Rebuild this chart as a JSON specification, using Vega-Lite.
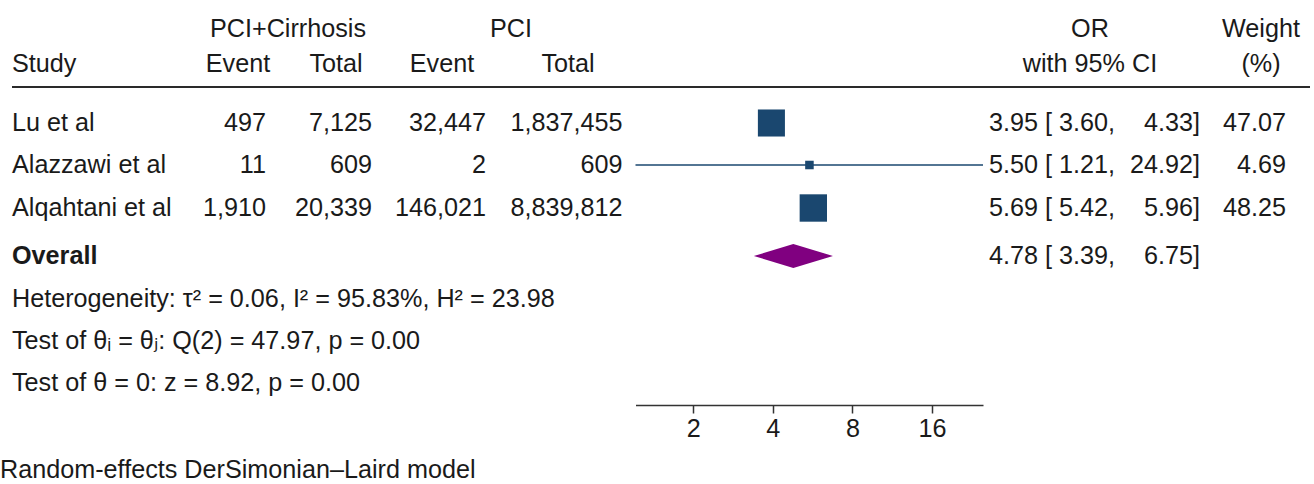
{
  "$schema": "https://vega.github.io/schema/vega-lite/v6.json",
  "width": 1310,
  "height": 405,
  "padding": 0,
  "autosize": {"type": "pad"},
  "background": "white",
  "usermeta": {"embedOptions": {"actions": false}},
  "config": {
    "view": {"stroke": null},
    "text": {"font": "Liberation Sans, DejaVu Sans, sans-serif", "fontSize": 25.2, "color": "#1a1a1a", "baseline": "middle"}
  },
  "datasets": {
    "rows": [
      {"study": "Lu et al", "kind": "study", "line": 3, "e1": 497, "n1": 7125, "e2": 32447, "n2": 1837455, "or": 3.95, "lo": 3.60, "hi": 4.33, "weight": 47.07},
      {"study": "Alazzawi et al", "kind": "study", "line": 4, "e1": 11, "n1": 609, "e2": 2, "n2": 609, "or": 5.50, "lo": 1.21, "hi": 24.92, "weight": 4.69},
      {"study": "Alqahtani et al", "kind": "study", "line": 5, "e1": 1910, "n1": 20339, "e2": 146021, "n2": 8839812, "or": 5.69, "lo": 5.42, "hi": 5.96, "weight": 48.25},
      {"study": "Overall", "kind": "overall", "line": 6, "or": 4.78, "lo": 3.39, "hi": 6.75}
    ],
    "headers": [
      {"text": "PCI+Cirrhosis", "col": 4, "line": 0},
      {"text": "PCI", "col": 9, "line": 0},
      {"text": "OR", "col": 13, "line": 0},
      {"text": "Weight", "col": 15, "line": 0},
      {"text": "Event", "col": 2, "line": 1},
      {"text": "Total", "col": 5, "line": 1},
      {"text": "Event", "col": 7, "line": 1},
      {"text": "Total", "col": 10, "line": 1},
      {"text": "with 95% CI", "col": 13, "line": 1},
      {"text": "(%)", "col": 15, "line": 1}
    ],
    "notes": [
      {"text": "Study", "col": 1, "line": 1},
      {"text": "Heterogeneity: τ² = 0.06, I² = 95.83%, H² = 23.98", "col": 1, "line": 7},
      {"text": "Test of θᵢ = θⱼ: Q(2) = 47.97, p = 0.00", "col": 1, "line": 8},
      {"text": "Test of θ = 0: z = 8.92, p = 0.00", "col": 1, "line": 9},
      {"text": "Random-effects DerSimonian–Laird model", "col": 0, "line": 10}
    ]
  },
  "resolve": {"scale": {"x": "independent"}, "axis": {"x": "independent"}},
  "layer": [
    {
      "layer": [
        {
          "data": {"name": "headers"},
          "mark": {"type": "text", "align": "center"},
          "encoding": {
            "x": {"field": "col", "type": "quantitative", "axis": null, "scale": {"type": "linear", "nice": false, "zero": false, "domain": [0,1,2,3,4,5,6,7,8,9,10,11,12,13,14,15,16,17], "range": [0,12,238,266,288,336,372,442,486,511,568,622.5,989,1090,1200,1261,1286,1310]}},
            "y": {"field": "line", "type": "quantitative", "axis": null, "scale": {"type": "linear", "nice": false, "zero": false, "domain": [0,1,2,3,4,5,6,7,8,9,10], "range": [29,64,87,123,165,208,256,299,341,383,470]}},
            "text": {"field": "text", "type": "nominal"}
          }
        },
        {
          "data": {"name": "notes"},
          "mark": {"type": "text", "align": "left"},
          "encoding": {
            "x": {"field": "col", "type": "quantitative", "axis": null},
            "y": {"field": "line", "type": "quantitative", "axis": null},
            "text": {"field": "text", "type": "nominal"}
          }
        },
        {
          "data": {"name": "rows"},
          "transform": [{"filter": "datum.kind == 'study'"}],
          "mark": {"type": "text", "align": "left"},
          "encoding": {
            "x": {"datum": 1, "type": "quantitative", "axis": null},
            "y": {"field": "line", "type": "quantitative", "axis": null},
            "text": {"field": "study", "type": "nominal"}
          }
        },
        {
          "data": {"name": "rows"},
          "transform": [{"filter": "datum.kind == 'overall'"}],
          "mark": {"type": "text", "align": "left", "fontWeight": "bold"},
          "encoding": {
            "x": {"datum": 1, "type": "quantitative", "axis": null},
            "y": {"field": "line", "type": "quantitative", "axis": null},
            "text": {"field": "study", "type": "nominal"}
          }
        },
        {
          "data": {"name": "rows"},
          "transform": [{"filter": "datum.kind == 'study'"}],
          "mark": {"type": "text", "align": "right"},
          "encoding": {
            "x": {"datum": 3, "type": "quantitative", "axis": null},
            "y": {"field": "line", "type": "quantitative", "axis": null},
            "text": {"field": "e1", "type": "quantitative", "format": ",d"}
          }
        },
        {
          "data": {"name": "rows"},
          "transform": [{"filter": "datum.kind == 'study'"}],
          "mark": {"type": "text", "align": "right"},
          "encoding": {
            "x": {"datum": 6, "type": "quantitative", "axis": null},
            "y": {"field": "line", "type": "quantitative", "axis": null},
            "text": {"field": "n1", "type": "quantitative", "format": ",d"}
          }
        },
        {
          "data": {"name": "rows"},
          "transform": [{"filter": "datum.kind == 'study'"}],
          "mark": {"type": "text", "align": "right"},
          "encoding": {
            "x": {"datum": 8, "type": "quantitative", "axis": null},
            "y": {"field": "line", "type": "quantitative", "axis": null},
            "text": {"field": "e2", "type": "quantitative", "format": ",d"}
          }
        },
        {
          "data": {"name": "rows"},
          "transform": [{"filter": "datum.kind == 'study'"}],
          "mark": {"type": "text", "align": "right"},
          "encoding": {
            "x": {"datum": 11, "type": "quantitative", "axis": null},
            "y": {"field": "line", "type": "quantitative", "axis": null},
            "text": {"field": "n2", "type": "quantitative", "format": ",d"}
          }
        },
        {
          "data": {"name": "rows"},
          "transform": [{"calculate": "format(datum.or, '.2f') + ' [ ' + format(datum.lo, '.2f') + ','", "as": "ciL"}],
          "mark": {"type": "text", "align": "left"},
          "encoding": {
            "x": {"datum": 12, "type": "quantitative", "axis": null},
            "y": {"field": "line", "type": "quantitative", "axis": null},
            "text": {"field": "ciL", "type": "nominal"}
          }
        },
        {
          "data": {"name": "rows"},
          "transform": [{"calculate": "format(datum.hi, '.2f') + ']'", "as": "ciR"}],
          "mark": {"type": "text", "align": "right"},
          "encoding": {
            "x": {"datum": 14, "type": "quantitative", "axis": null},
            "y": {"field": "line", "type": "quantitative", "axis": null},
            "text": {"field": "ciR", "type": "nominal"}
          }
        },
        {
          "data": {"name": "rows"},
          "transform": [{"filter": "datum.kind == 'study'"}],
          "mark": {"type": "text", "align": "right"},
          "encoding": {
            "x": {"datum": 16, "type": "quantitative", "axis": null},
            "y": {"field": "line", "type": "quantitative", "axis": null},
            "text": {"field": "weight", "type": "quantitative", "format": ".2f"}
          }
        },
        {
          "data": {"values": [{"part": "header rule"}]},
          "mark": {"type": "rule", "color": "#2a2a2a", "strokeWidth": 2},
          "encoding": {
            "x": {"datum": 1, "type": "quantitative", "axis": null},
            "x2": {"datum": 17},
            "y": {"datum": 2, "type": "quantitative", "axis": null}
          }
        }
      ]
    },
    {
      "layer": [
        {
          "data": {"name": "rows"},
          "transform": [{"filter": "datum.kind == 'study'"}],
          "mark": {"type": "rule", "color": "#1a476f", "strokeWidth": 1.4},
          "encoding": {
            "x": {"field": "lo", "type": "quantitative", "title": null,
                  "scale": {"type": "log", "base": 2, "domain": [1.21, 24.92], "range": [635.5, 983], "nice": false},
                  "axis": {"orient": "bottom", "values": [2, 4, 8, 16], "format": "d", "title": null, "grid": false, "tickSize": 8, "labelPadding": 3, "labelFontSize": 25.2, "labelFont": "Liberation Sans", "labelColor": "#1a1a1a", "domainColor": "#333333", "tickColor": "#333333", "domainWidth": 1.5, "tickWidth": 1.5, "labelFlush": false, "labelOverlap": false}},
            "x2": {"field": "hi"},
            "y": {"field": "line", "type": "quantitative", "axis": null}
          }
        },
        {
          "data": {"name": "rows"},
          "transform": [{"filter": "datum.kind == 'study'"}],
          "mark": {"type": "point", "shape": "square", "filled": true, "opacity": 1, "color": "#1a476f"},
          "encoding": {
            "x": {"field": "or", "type": "quantitative", "title": null},
            "y": {"field": "line", "type": "quantitative", "axis": null},
            "size": {"field": "weight", "type": "quantitative", "legend": null, "scale": {"type": "linear", "domain": [0, 48.25], "range": [0, 750]}}
          }
        },
        {
          "data": {"name": "rows"},
          "transform": [
            {"filter": "datum.kind == 'overall'"},
            {"fold": ["lo", "or", "hi"], "as": ["part", "val"]},
            {"calculate": "datum.part == 'or' ? datum.line - 0.25 : datum.line", "as": "ytop"},
            {"calculate": "datum.part == 'or' ? datum.line + 0.28 : datum.line", "as": "ybot"}
          ],
          "mark": {"type": "area", "orient": "vertical", "color": "#800080", "opacity": 1},
          "encoding": {
            "x": {"field": "val", "type": "quantitative", "title": null},
            "y": {"field": "ytop", "type": "quantitative", "axis": null},
            "y2": {"field": "ybot"}
          }
        }
      ]
    }
  ]
}
